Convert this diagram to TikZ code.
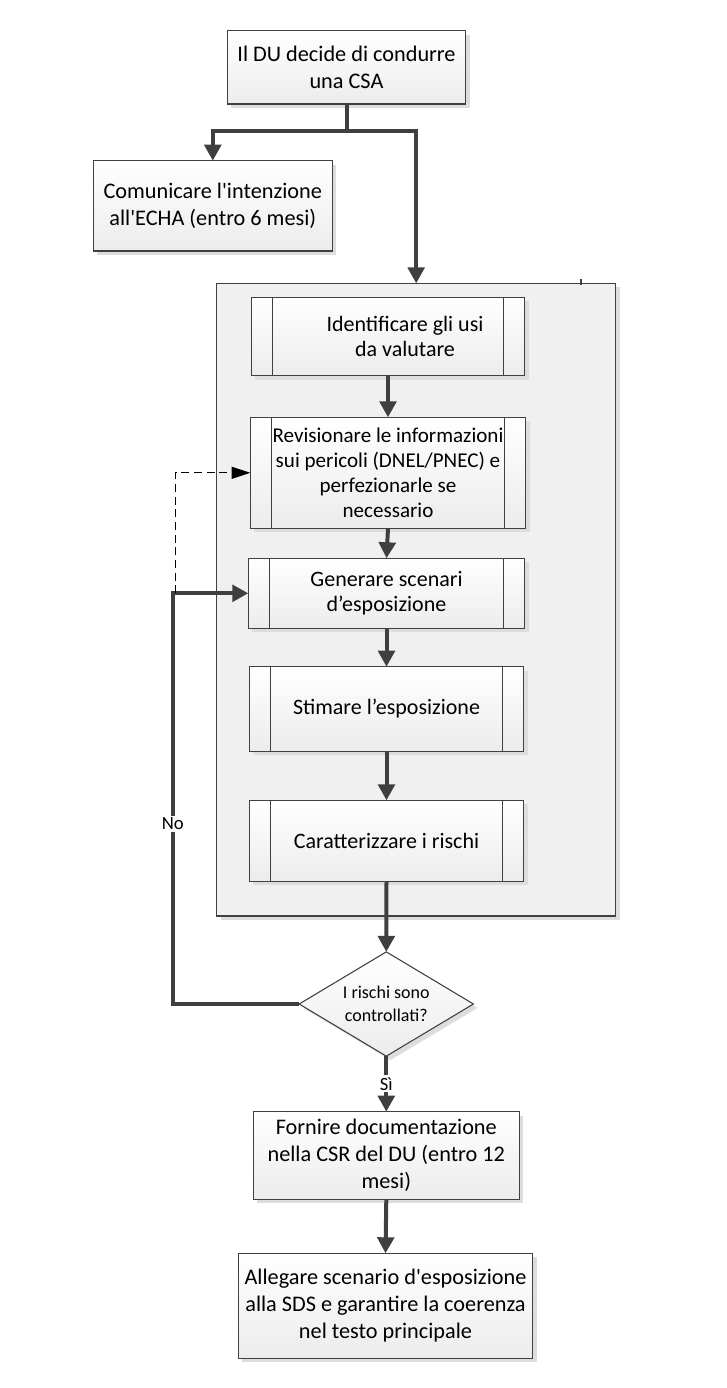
\documentclass[tikz,border=0pt]{standalone}
\usepackage{fontspec}
\setmainfont{Carlito}[Ligatures=TeXOff]
\usetikzlibrary{shapes.geometric,arrows.meta,shadows}

\definecolor{boxline}{HTML}{404040}
\definecolor{linegray}{HTML}{3F3F3F}
\definecolor{boxfill}{HTML}{ECECEC}
\definecolor{shadowgray}{HTML}{DDDDDD}
\definecolor{panelfill}{HTML}{F0F0F0}

\tikzset{every picture/.style={line width=0.75pt}}
\tikzset{
  stepbox/.style={draw=boxline, line width=1pt, top color=white, bottom color=boxfill,
    align=center, inner sep=0pt, outer sep=0pt, font=\fontsize{16.7}{20.25}\selectfont,
    drop shadow={shadow xshift=3pt, shadow yshift=-3pt, fill=shadowgray, opacity=1}},
  procbox/.style={stepbox, font=\fontsize{16.5}{18.75}\selectfont,
    path picture={\draw[boxline, line width=1pt]
      ([xshift=15.75pt]path picture bounding box.north west) -- ([xshift=15.75pt]path picture bounding box.south west)
      ([xshift=-15.75pt]path picture bounding box.north east) -- ([xshift=-15.75pt]path picture bounding box.south east);}},
  panel/.style={draw=boxline, line width=1pt, fill=panelfill, inner sep=0pt, outer sep=0pt,
    drop shadow={shadow xshift=3pt, shadow yshift=-3pt, fill=shadowgray, opacity=1}},
  testbox/.style={diamond, stepbox, shape aspect=1.67, line width=0.8pt, font=\fontsize{13.5}{17.3}\selectfont},
  flow/.style={draw=linegray, line width=3pt, -{Triangle[length=12pt,width=12.4pt]}},
  backflow/.style={draw=black, dashed, dash pattern=on 6pt off 3.5pt, line width=0.75pt, -{Triangle[length=14pt,width=9pt]}},
  answer/.style={fill=white, inner sep=1.5pt, font=\fontsize{14}{16}\selectfont},
}

\begin{document}
\begin{tikzpicture}[x=0.75pt,y=0.75pt,yscale=-1,xscale=1]
\useasboundingbox (0,0) rectangle (726,1388);

% Panel round the assessment steps
\node [panel, minimum width=299.25pt, minimum height=474.5pt] (csa) at (416.2,599.7) {};
\draw [linegray, line width=1pt] (581,279) -- (581,285);

% Start
\node [stepbox, minimum width=178.8pt, minimum height=55pt] (start) at (346.5,67.3) {Il DU decide di condurre\\una CSA};
% Notice to ECHA
\node [stepbox, minimum width=179.25pt, minimum height=67.7pt] (notice) at (212.8,205.8) {Comunicare l'intenzione\\all'ECHA (entro 6 mesi)};

% Steps inside the panel
\node [procbox, minimum width=205pt, minimum height=58.8pt] (uses) at (388,336.5) {\hspace*{25.5pt}Identificare gli usi\\\hspace*{25.5pt}da valutare};
\node [procbox, font=\fontsize{15.8}{18.75}\selectfont, minimum width=206.5pt, minimum height=83.25pt] (hazard) at (388,472.8) {Revisionare le informazioni\\sui pericoli (DNEL/PNEC) e\\perfezionarle se\\necessario};
\node [procbox, minimum width=207.3pt, minimum height=52.5pt] (scen) at (386.5,593.3) {Generare scenari\\d’esposizione};
\node [procbox, minimum width=205.8pt, minimum height=63.45pt] (expo) at (386.5,709) {Stimare l’esposizione};
\node [procbox, minimum width=205.8pt, minimum height=60.75pt] (risk) at (386.5,840.8) {Caratterizzare i rischi};

% Decision
\node [testbox, minimum width=130.7pt, minimum height=78.2pt] (ctrl) at (386.3,1004) {I rischi sono\\controllati?};

% Output steps
\node [stepbox, minimum width=199.5pt, minimum height=65.7pt] (report) at (386.3,1155.5) {Fornire documentazione\\nella CSR del DU (entro 12\\mesi)};
\node [stepbox, minimum width=220.8pt, minimum height=78.75pt] (sds) at (385.5,1305.8) {Allegare scenario d'esposizione\\alla SDS e garantire la coerenza\\nel testo principale};

% Connectors
\coordinate (split) at (346.5,131);
\draw [flow] (start.south) -- (split) -| (notice.north);
\draw [flow] (split) -| (csa.north);
\draw [flow] (uses.south) -- (hazard.north);
\draw [flow] (hazard.south) -- (scen.north);
\draw [flow] (scen.south) -- (expo.north);
\draw [flow] (expo.south) -- (risk.north);
\draw [flow] (risk.south) -- (ctrl.north);
\draw [flow] (ctrl.south) -- node [answer] (yes) {Sì} (report.north);
\draw [flow] (report.south) -- (sds.north);

% Loop back when not controlled
\coordinate (noturn) at (172.7,1004);
\draw [flow] (ctrl.west) -- (noturn) |- (scen.west);
\node [answer] (no) at (172.7,824) {No};
\coordinate (dashfoot) at (175.3,593.3);
\draw [backflow] (dashfoot) |- (hazard.west);

\end{tikzpicture}
\end{document}
